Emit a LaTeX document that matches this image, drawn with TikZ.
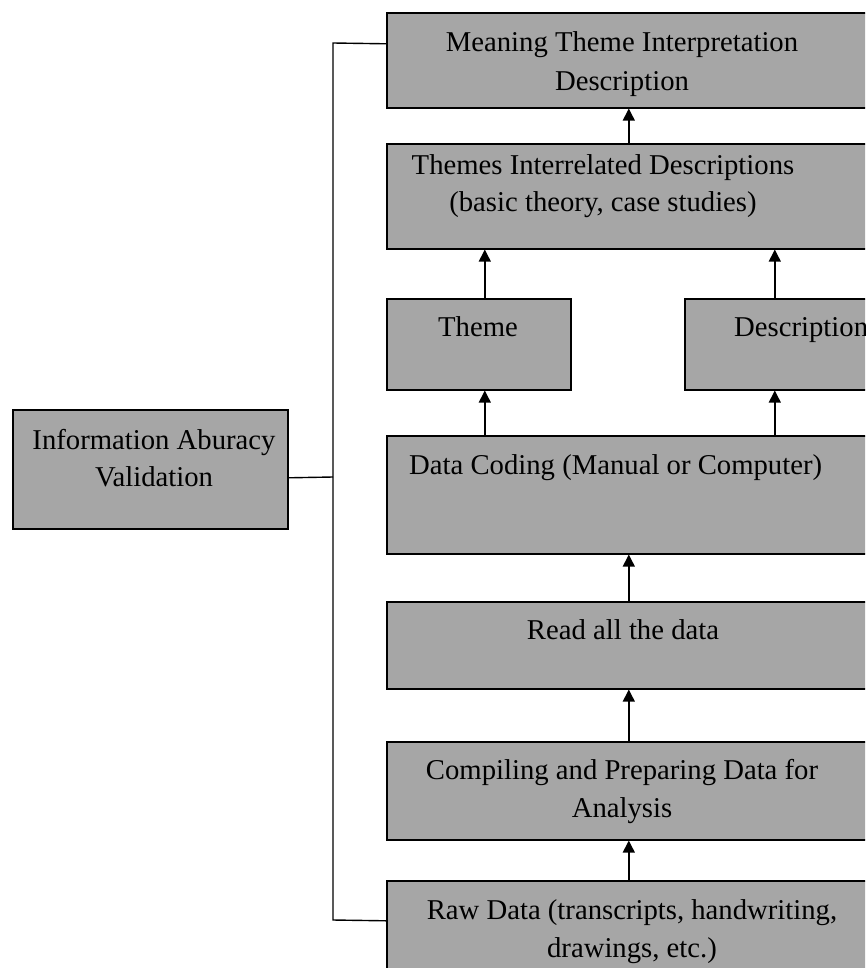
\documentclass[tikz,border=0pt]{standalone}
\usepackage{fontspec}
\setmainfont{Liberation Serif}
\usetikzlibrary{arrows.meta}
\definecolor{boxgray}{RGB}{166,166,166}
\begin{document}
\begin{tikzpicture}[x=1pt,y=-1pt,
  box/.style={draw=black,line width=1.6pt,fill=boxgray,rectangle,inner sep=0pt,anchor=north west},
  txt/.style={anchor=base,inner sep=0pt,font=\fontsize{28.7}{36.5}\selectfont},
  txtl/.style={anchor=base west,inner sep=0pt,font=\fontsize{28.7}{36.5}\selectfont},
  arr/.style={line width=1.4pt,-{Triangle[width=12pt,length=12pt]}},
  conn/.style={line width=1.4pt}]
\useasboundingbox (0,0) rectangle (865,968);
\clip (0,0) rectangle (865,968);
% boxes
\node[box,minimum width=484pt,minimum height=95pt] (meaning) at (386,12) {};
\node[box,minimum width=484pt,minimum height=105pt] (themes) at (386,143) {};
\node[box,minimum width=184pt,minimum height=91pt] (theme) at (386,298) {};
\node[box,minimum width=186pt,minimum height=91pt] (desc) at (684,298) {};
\node[box,minimum width=484pt,minimum height=118pt] (coding) at (386,435) {};
\node[box,minimum width=484pt,minimum height=87pt] (read) at (386,601) {};
\node[box,minimum width=484pt,minimum height=98pt] (compiling) at (386,741) {};
\node[box,minimum width=484pt,minimum height=100pt] (raw) at (386,880) {};
\node[box,minimum width=275pt,minimum height=119pt] (info) at (12,409) {};
% texts
\node[txt] (t1a) at (622,52) {Meaning Theme Interpretation};
\node[txt] (t1b) at (622,91) {Description};
\node[txt] (t2a) at (603,175) {Themes Interrelated Descriptions};
\node[txt] (t2b) at (603,212) {(basic theory, case studies)};
\node[txt] (t3) at (478,336) {Theme};
\node[txtl] (t4) at (734,336) {Description};
\node[txtl] (t5) at (409,474) {Data Coding (Manual or Computer)};
\node[txt] (t6) at (623,639) {Read all the data};
\node[txt] (t7a) at (622,779) {Compiling and Preparing Data for};
\node[txt] (t7b) at (622,817) {Analysis};
\node[txt] (t8a) at (632,919) {Raw Data (transcripts, handwriting,};
\node[txt] (t8b) at (632,957) {drawings, etc.)};
\node[txt] (t9a) at (154,449) {Information Aburacy};
\node[txt] (t9b) at (154,486) {Validation};
% arrows
\draw[arr] (themes.north) -- (meaning.south);
\draw[arr] ([xshift=6pt]theme.north) -- ([xshift=6pt]theme.north |- themes.south);
\draw[arr] ([xshift=-3pt]desc.north) -- ([xshift=-3pt]desc.north |- themes.south);
\draw[arr] ([xshift=6pt]theme.south |- coding.north) -- ([xshift=6pt]theme.south);
\draw[arr] ([xshift=-3pt]desc.south |- coding.north) -- ([xshift=-3pt]desc.south);
\draw[arr] (read.north) -- (coding.south);
\draw[arr] (compiling.north) -- (read.south);
\draw[arr] (raw.north) -- (compiling.south);
% bus
\coordinate (bustop) at (333,43);
\coordinate (busmid) at (333,477);
\coordinate (busbot) at (333,920);
\draw[conn] ([yshift=16.5pt]meaning.west) -- (bustop) -- (busbot) -- ([yshift=10pt]raw.west);
\draw[conn] ([yshift=-8.5pt]info.east) -- (busmid);
\end{tikzpicture}
\end{document}
